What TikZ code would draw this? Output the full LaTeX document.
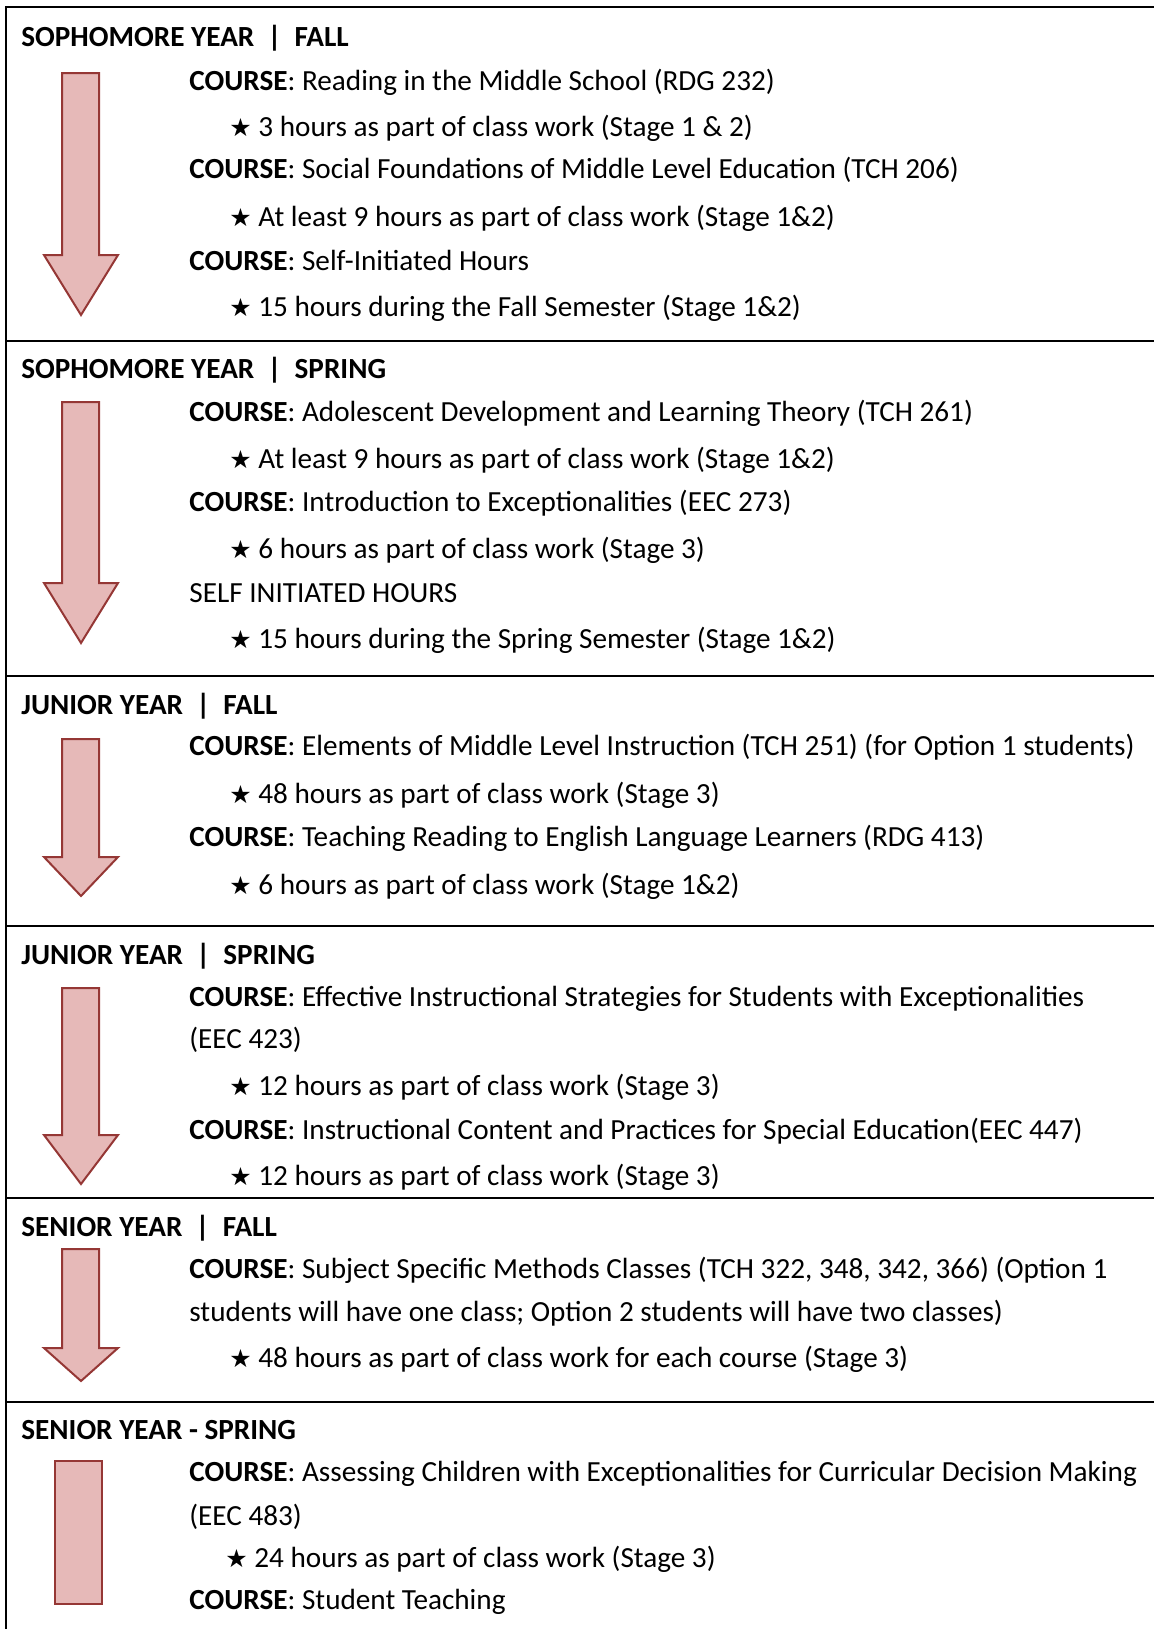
\documentclass[tikz,border=0pt]{standalone}
\usepackage{fontspec}
\setmainfont{Carlito}
\newfontfamily\starfont{DejaVu Sans}
\usepackage{tikz}

\definecolor{arrowfill}{HTML}{E6B9B8}
\definecolor{arrowline}{HTML}{953735}

\newcommand{\bstar}{\makebox[14.5pt][l]{\starfont\fontsize{12.5}{12.5}\selectfont ★}}

\begin{document}
\begin{tikzpicture}[x = 0.5pt, y = -0.5pt,
                        rule/.style = {line width = 1pt, black},
                        flow/.style = {line width = 1pt, draw = arrowline, fill = arrowfill, line join = miter},
                        txt/.style = {anchor = base west, inner sep = 0pt, font = \fontsize{14.6}{17}\selectfont},
                        head/.style = {txt, font = \fontsize{14.6}{17}\selectfont\bfseries},
                        course/.style = {txt},
                        hours/.style = {txt}]
      \useasboundingbox (0, 0) rectangle (1154, 1629);

      % table rules
      \draw [rule] (6, 1629) -- (6, 7) -- (1154, 7);
      \draw [rule] (6, 340.5) -- (1154, 340.5);
      \draw [rule] (6, 675.5) -- (1154, 675.5);
      \draw [rule] (6, 925.5) -- (1154, 925.5);
      \draw [rule] (6, 1197.5) -- (1154, 1197.5);
      \draw [rule] (6, 1401.5) -- (1154, 1401.5);

      % arrows
      \draw [flow] (62, 73) -- (99, 73) -- (99, 255) -- (118, 255) -- (81, 315) -- (44, 255) -- (62, 255) -- cycle;
      \draw [flow] (62, 402) -- (99, 402) -- (99, 583) -- (118, 583) -- (81, 643) -- (44, 583) -- (62, 583) -- cycle;
      \draw [flow] (62, 739) -- (99, 739) -- (99, 857) -- (118, 857) -- (81, 896) -- (44, 857) -- (62, 857) -- cycle;
      \draw [flow] (62, 988) -- (99, 988) -- (99, 1135) -- (118, 1135) -- (81, 1184) -- (44, 1135) -- (62, 1135) -- cycle;
      \draw [flow] (62, 1249) -- (99, 1249) -- (99, 1348) -- (118, 1348) -- (81, 1381) -- (44, 1348) -- (62, 1348) -- cycle;
      \draw [flow] (55, 1461) rectangle (102, 1604);

      % sophomore fall
      \node [head] (h1) at (21, 46.7) {SOPHOMORE YEAR\ \ |\ \ FALL};
      \node [course] (c1a) at (189, 90.7) {\textbf{COURSE}: Reading in the Middle School (RDG 232)};
      \node [hours] (s1a) at (229, 136.7) {\bstar 3 hours as part of class work (Stage 1 \& 2)};
      \node [course] (c1b) at (189, 178.7) {\textbf{COURSE}: Social Foundations of Middle Level Education (TCH 206)};
      \node [hours] (s1b) at (229, 226.7) {\bstar At least 9 hours as part of class work (Stage 1\&2)};
      \node [course] (c1c) at (189, 270) {\textbf{COURSE}: Self-Initiated Hours};
      \node [hours] (s1c) at (229, 316.7) {\bstar 15 hours during the Fall Semester (Stage 1\&2)};

      % sophomore spring
      \node [head] (h2) at (21, 378.8) {SOPHOMORE YEAR\ \ |\ \ SPRING};
      \node [course] (c2a) at (189, 421.4) {\textbf{COURSE}: Adolescent Development and Learning Theory (TCH 261)};
      \node [hours] (s2a) at (229, 468.1) {\bstar At least 9 hours as part of class work (Stage 1\&2)};
      \node [course] (c2b) at (189, 511.7) {\textbf{COURSE}: Introduction to Exceptionalities (EEC 273)};
      \node [hours] (s2b) at (229, 558.5) {\bstar 6 hours as part of class work (Stage 3)};
      \node [course] (c2c) at (189, 602.1) {SELF INITIATED HOURS};
      \node [hours] (s2c) at (229, 648.8) {\bstar 15 hours during the Spring Semester (Stage 1\&2)};

      % junior fall
      \node [head] (h3) at (21, 714.3) {JUNIOR YEAR\ \ |\ \ FALL};
      \node [course] (c3a) at (189, 755.8) {\textbf{COURSE}: Elements of Middle Level Instruction (TCH 251) (for Option 1 students)};
      \node [hours] (s3a) at (229, 803.6) {\bstar 48 hours as part of class work (Stage 3)};
      \node [course] (c3b) at (189, 846.2) {\textbf{COURSE}: Teaching Reading to English Language Learners (RDG 413)};
      \node [hours] (s3b) at (229, 894) {\bstar 6 hours as part of class work (Stage 1\&2)};

      % junior spring
      \node [head] (h4) at (21, 964.6) {JUNIOR YEAR\ \ |\ \ SPRING};
      \node [course] (c4a) at (189, 1006.2) {\textbf{COURSE}: Effective Instructional Strategies for Students with Exceptionalities};
      \node [course] (c4a2) at (189, 1048.7) {(EEC 423)};
      \node [hours] (s4a) at (229, 1095.5) {\bstar 12 hours as part of class work (Stage 3)};
      \node [course] (c4b) at (189, 1139.1) {\textbf{COURSE}: Instructional Content and Practices for Special Education(EEC 447)};
      \node [hours] (s4b) at (229, 1185.8) {\bstar 12 hours as part of class work (Stage 3)};

      % senior fall
      \node [head] (h5) at (21, 1236.6) {SENIOR YEAR\ \ |\ \ FALL};
      \node [course] (c5a) at (189, 1278.3) {\textbf{COURSE}: Subject Specific Methods Classes (TCH 322, 348, 342, 366) (Option 1};
      \node [course] (c5a2) at (189, 1321.9) {students will have one class; Option 2 students will have two classes)};
      \node [hours] (s5a) at (229, 1367.6) {\bstar 48 hours as part of class work for each course (Stage 3)};

      % senior spring
      \node [head] (h6) at (21, 1439.3) {SENIOR YEAR - SPRING};
      \node [course] (c6a) at (189, 1481.9) {\textbf{COURSE}: Assessing Children with Exceptionalities for Curricular Decision Making};
      \node [course] (c6a2) at (189, 1525.5) {(EEC 483)};
      \node [hours] (s6a) at (225, 1567) {\bstar 24 hours as part of class work (Stage 3)};
      \node [course] (c6b) at (189, 1609.6) {\textbf{COURSE}: Student Teaching};

      \end{tikzpicture}
\end{document}
